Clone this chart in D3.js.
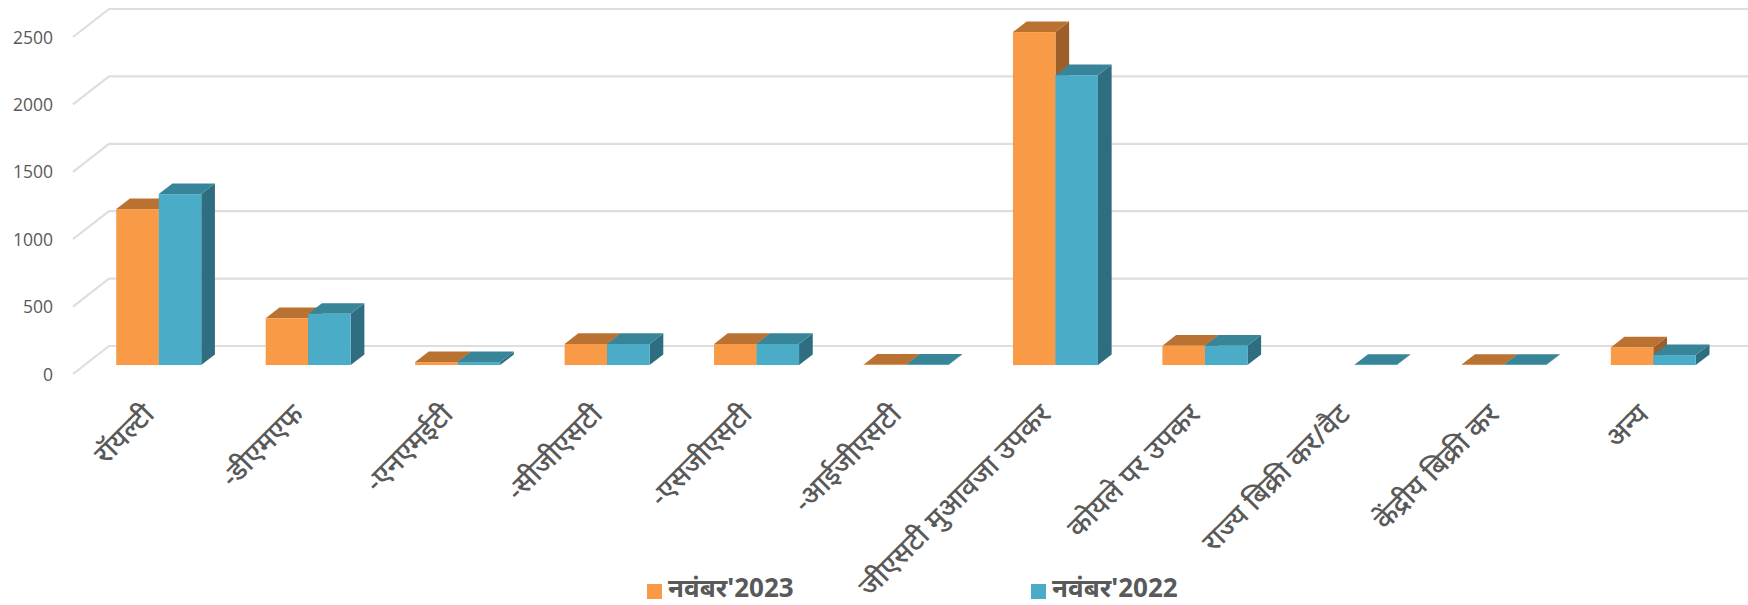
<!DOCTYPE html>
<html>
<head>
<meta charset="utf-8">
<script src="https://cdn.jsdelivr.net/npm/d3@7"></script>
<style>
html,body{margin:0;padding:0;background:#fff}
text{font-family:"Noto Sans","Noto Sans Devanagari","Lohit Devanagari","Open Sans",sans-serif;fill:#595959}
</style>
</head>
<body>
<svg id="chart" width="1748" height="605"></svg>
<script>
const categories=["रॉयल्टी","-डीएमएफ","-एनएमईटी","-सीजीएसटी","-एसजीएसटी","-आईजीएसटी","जीएसटी मुआवजा उपकर","कोयले पर उपकर","राज्य बिक्री कर/वैट","केंद्रीय बिक्री कर","अन्य"];
const nov2023=[1157,347,22,156,156,3,2470,143,null,2,131];
const nov2022=[1268,380,22,156,156,3,2150,143,2,2,74];
const yTicks=[0,500,1000,1500,2000,2500];
const seriesNames=["नवंबर'2023","नवंबर'2022"];

const svg=d3.select('#chart');
const x=d3.scaleBand().domain(categories).range([73,1717]);
const y=d3.scaleLinear().domain([0,2500]).range([374,37]);
const zx=d3.scaleLinear().domain([0,1]).range([0,36]);
const zy=d3.scaleLinear().domain([0,1]).range([0,-28]);
const side=d3.scaleBand().domain([0,1]).range([0,85]);
const colors=[{front:'#f99a47',top:'#b97232',side:'#9c5f2a'},{front:'#4bacc8',top:'#388599',side:'#2f6e80'}];
const zNear=.32,zFar=.7;

// walls: grid lines go from the front edge to the back, then across
const grid=svg.append('g');
grid.selectAll('path').data(yTicks).enter().append('path')
  .attr('fill','none').attr('stroke','#dedede').attr('stroke-width',2.2)
  .attr('d',d=>`M${x.range()[0]},${y(d)}L${x.range()[0]+zx(1)},${y(d)+zy(1)}H1748`);

const yAxis=d3.axisLeft(y).tickValues(yTicks).tickFormat(d3.format('d')).tickSize(0).tickPadding(0);
const yg=svg.append('g').attr('transform','translate(53,0.5)').call(yAxis);
yg.select('.domain').remove();
yg.selectAll('text').style('font-size','17.5px').style('font-family','"Open Sans",sans-serif');

function poly(pts){return 'M'+pts.map(p=>p.join(',')).join('L')+'Z';}
function drawSeries(vals,s){
  const g=svg.append('g');
  categories.forEach((c,i)=>{
    if(vals[i]===null)return;
    const x0=x(c)+x.bandwidth()/2-43+side(s)+zx(zNear),x1=x0+side.bandwidth();
    const yb=y(0)+zy(zNear),yt=y(vals[i])+zy(zNear);
    const dx=zx(zFar-zNear),dy=zy(zFar-zNear);
    g.append('path').attr('fill',colors[s].side).attr('d',poly([[x1,yb],[x1+dx,yb+dy],[x1+dx,yt+dy],[x1,yt]]));
    g.append('path').attr('fill',colors[s].top).attr('d',poly([[x0,yt],[x0+dx,yt+dy],[x1+dx,yt+dy],[x1,yt]]));
    g.append('rect').attr('x',x0).attr('y',yt).attr('width',side.bandwidth()).attr('height',yb-yt).attr('fill',colors[s].front);
  });
}
drawSeries(nov2023,0);
drawSeries(nov2022,1);

// slanted category labels
svg.append('g').selectAll('text').data(categories).enter().append('text')
  .attr('text-anchor','end').style('font-size','28px').style('font-weight','500')
  .attr('transform',d=>`translate(${x(d)+x.bandwidth()/2+8},416) rotate(-45)`)
  .text(d=>d);

const legendX=[647,1031];
const lg=svg.append('g').selectAll('g').data(seriesNames).enter().append('g')
  .attr('transform',(d,i)=>`translate(${legendX[i]},584)`);
lg.append('rect').attr('width',15).attr('height',15).attr('fill',(d,i)=>colors[i].front);
lg.append('text').attr('x',21).attr('y',13).style('font-size','26px').style('font-weight','bold').text(d=>d);
</script>
</body>
</html>
